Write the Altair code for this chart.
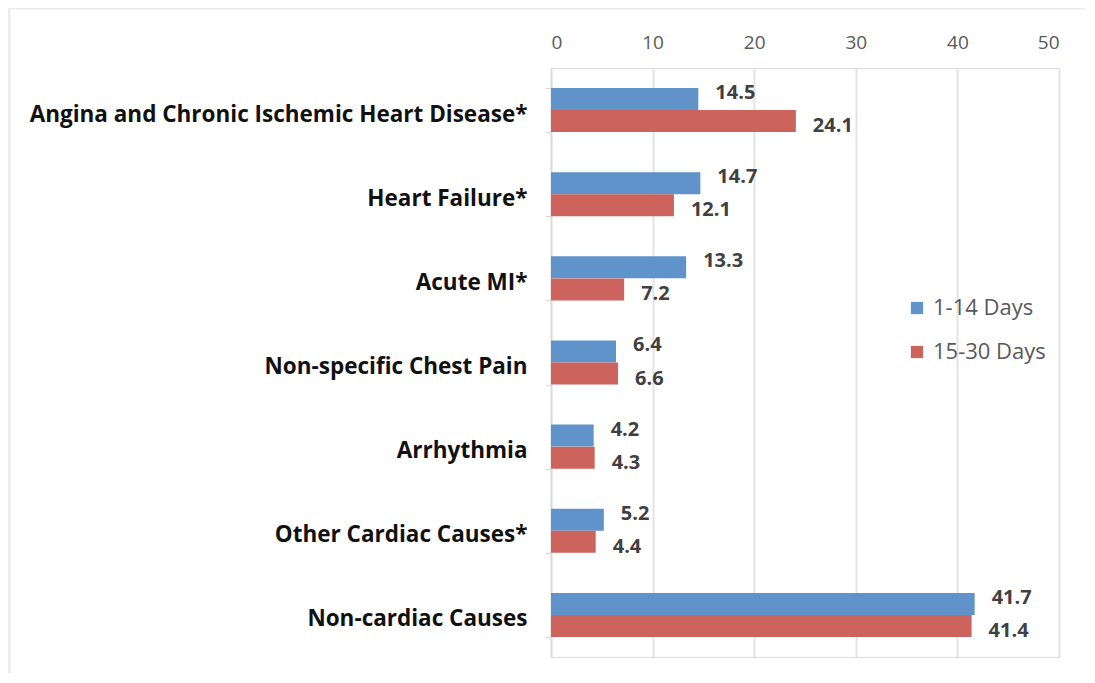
import altair as alt
import pandas as pd

categories = [
    "Angina and Chronic Ischemic Heart Disease*",
    "Heart Failure*",
    "Acute MI*",
    "Non-specific Chest Pain",
    "Arrhythmia",
    "Other Cardiac Causes*",
    "Non-cardiac Causes",
]
series = ["1-14 Days", "15-30 Days"]
days_1_14 = [14.5, 14.7, 13.3, 6.4, 4.2, 5.2, 41.7]
days_15_30 = [24.1, 12.1, 7.2, 6.6, 4.3, 4.4, 41.4]
colors = ["#5F93CA", "#CD635D"]

rows = []
for c, a, b in zip(categories, days_1_14, days_15_30):
    rows.append({"cat": c, "series": series[0], "value": a})
    rows.append({"cat": c, "series": series[1], "value": b})
df = pd.DataFrame(rows)

W, H = 508, 589
FONT = "Open Sans"

y_enc = alt.Y(
    "cat:N",
    sort=categories,
    scale=alt.Scale(paddingInner=0.476, paddingOuter=0.238),
    axis=alt.Axis(
        title=None,
        labelFont=FONT,
        labelFontSize=22.5,
        labelFontWeight="bold",
        labelColor="#111111",
        labelPadding=18,
        labelOffset=4,
        tickBand="extent",
        tickColor="#d9d9d9",
        tickSize=6,
        domainColor="#d9d9d9",
        domainWidth=1.5,
        labelLimit=600,
    ),
)
x_enc = alt.X(
    "value:Q",
    scale=alt.Scale(domain=[0, 50], nice=False),
    axis=alt.Axis(
        orient="top",
        title=None,
        values=[0, 10, 20, 30, 40, 50],
        labelFont=FONT,
        labelFontSize=19,
        labelColor="#595959",
        labelPadding=16,
        ticks=False,
        domain=False,
        grid=True,
        gridColor="#e3e3e3",
        gridWidth=2,
    ),
)
color_enc = alt.Color(
    "series:N",
    scale=alt.Scale(domain=series, range=colors),
    legend=alt.Legend(
        title=None,
        orient="none",
        legendX=355,
        legendY=229,
        symbolType="square",
        symbolSize=150,
        symbolStrokeWidth=0,
        labelFont=FONT,
        labelFontSize=22,
        labelColor="#595959",
        rowPadding=22,
        labelOffset=5,
    ),
)
yoff = alt.YOffset("series:N", sort=series)

base = alt.Chart(df)
bars = base.mark_bar(size=22).encode(y=y_enc, x=x_enc, color=color_enc, yOffset=yoff)

lab_style = dict(align="left", dx=17, font=FONT, fontSize=20, fontWeight="bold", color="#404040")
lab1 = base.transform_filter(alt.datum.series == series[0]).mark_text(dy=-6, **lab_style).encode(
    y=alt.Y("cat:N", sort=categories), x="value:Q", yOffset=yoff, text=alt.Text("value:Q", format=".1f")
)
lab2 = base.transform_filter(alt.datum.series == series[1]).mark_text(dy=5, **lab_style).encode(
    y=alt.Y("cat:N", sort=categories), x="value:Q", yOffset=yoff, text=alt.Text("value:Q", format=".1f")
)

border_top = alt.Chart(pd.DataFrame({"k": [0]})).mark_rule(color="#ececec", strokeWidth=3, clip=False).encode(
    x=alt.value(-542), x2=alt.value(W + 30), y=alt.value(-60)
)
border_left = alt.Chart(pd.DataFrame({"k": [0]})).mark_rule(color="#ececec", strokeWidth=3, clip=False).encode(
    x=alt.value(-542), y=alt.value(-60), y2=alt.value(H + 20)
)

chart = (
    alt.layer(border_top, border_left, bars, lab1, lab2)
    .properties(
        width=W,
        height=H,
        autosize=alt.AutoSizeParams(type="none"),
        padding={"left": 543, "top": 60, "right": 26, "bottom": 16},
    )
    .configure_view(stroke=None)
    .configure(background="white")
)

chart.save("out.html", embed_options={"renderer": "svg", "actions": False})
